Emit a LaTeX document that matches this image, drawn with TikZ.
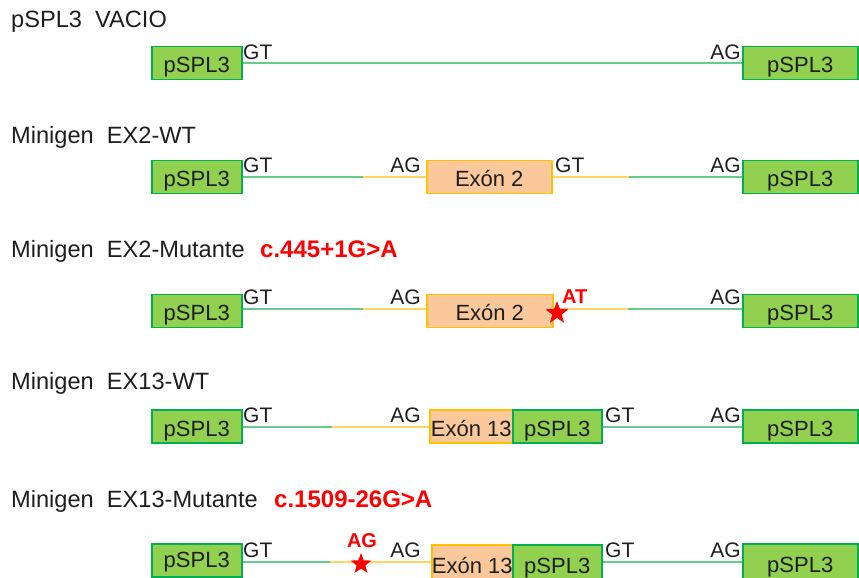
\documentclass[tikz,border=0pt]{standalone}
\usepackage{fontspec}
\setmainfont{Liberation Sans}
\usetikzlibrary{shapes.geometric}

\definecolor{boxgreen}{RGB}{146,208,80}
\definecolor{boxgreenD}{RGB}{0,176,80}
\definecolor{exfill}{RGB}{250,200,155}
\definecolor{exdraw}{RGB}{255,192,0}
\definecolor{lingreen}{RGB}{102,204,140}
\definecolor{linyellow}{RGB}{255,214,100}
\definecolor{ink}{RGB}{30,30,30}
\definecolor{mut}{RGB}{255,0,0}

\begin{document}
\begin{tikzpicture}[x=1pt,y=-1pt,
  box/.style={line width=1.5pt, minimum height=33pt, inner sep=0pt,
    text height=19.5pt, text depth=0.5pt, anchor=west,
    font=\fontsize{22}{24}\selectfont, text=ink},
  vec/.style={box, draw=boxgreenD, fill=boxgreen},
  exon/.style={box, draw=exdraw, fill=exfill},
  vecline/.style={line width=2pt, lingreen},
  insline/.style={line width=2pt, linyellow},
  site/.style={font=\fontsize{21}{23}\selectfont, text=ink, inner sep=0pt},
  mutsite/.style={font=\fontsize{20}{22}\selectfont\bfseries, text=mut, inner sep=0pt},
  heading/.style={font=\fontsize{23.6}{26}\selectfont, text=ink, inner sep=0pt, anchor=base west},
  change/.style={font=\fontsize{24}{26}\selectfont\bfseries, text=mut, inner sep=0pt, anchor=base west},
  mutstar/.style={star, star points=5, star point ratio=2.4, fill=mut, inner sep=0pt, minimum size=24pt},
]
\useasboundingbox (0,0) rectangle (859,578);

% ---------------- pSPL3 VACIO ----------------
\node[heading] (t1) at (11,28) {pSPL3\ \ VACIO};
\node[vec, minimum width=90pt] (a1) at (151,63) {pSPL3};
\node[vec, minimum width=115pt] (b1) at (742,63) {pSPL3};
\draw[vecline] (a1.east) -- (b1.west);
\node[site, anchor=base west] (gt1) at (243,59.5) {GT};
\node[site, anchor=base east] (ag1) at (741,59.5) {AG};

% ---------------- Minigen EX2-WT ----------------
\node[heading] (t2) at (11,143) {Minigen\ \ EX2-WT};
\node[vec, minimum width=90pt] (a2) at (151,177) {pSPL3};
\node[exon, minimum width=125pt] (e2) at (426,177) {Exón 2};
\node[vec, minimum width=115pt] (b2) at (742,177) {pSPL3};
\coordinate (p2) at (363,177);
\coordinate (q2) at (629,177);
\draw[vecline] (a2.east) -- (p2);
\draw[insline] (p2) -- (e2.west);
\draw[insline] (e2.east) -- (q2);
\draw[vecline] (q2) -- (b2.west);
\node[site, anchor=base west] (gt2a) at (243,172.5) {GT};
\node[site, anchor=base east] (ag2a) at (421,172.5) {AG};
\node[site, anchor=base west] (gt2b) at (555,172.5) {GT};
\node[site, anchor=base east] (ag2b) at (741,172.5) {AG};

% ---------------- Minigen EX2-Mutante ----------------
\node[heading] (t3) at (11,257) {Minigen\ \ EX2-Mutante};
\node[change] (c3) at (260,257) {c.445+1G>A};
\node[vec, minimum width=90pt] (a3) at (151,311) {pSPL3};
\node[exon, minimum width=126pt] (e3) at (426,311) {Exón 2};
\node[vec, minimum width=115pt] (b3) at (742,311) {pSPL3};
\coordinate (p3) at (363,309);
\coordinate (q3) at (628,309);
\draw[vecline] (a3.east |- p3) -- (p3);
\draw[insline] (p3) -- (e3.west |- p3);
\draw[insline] (e3.east |- q3) -- (q3);
\draw[vecline] (q3) -- (b3.west |- q3);
\node[site, anchor=base west] (gt3a) at (243,304.5) {GT};
\node[site, anchor=base east] (ag3a) at (421,304.5) {AG};
\node[site, anchor=base east] (ag3b) at (741,304.5) {AG};
\node[mutstar] (s3) at (557,313) {};
\node[mutsite, anchor=base west] (at3) at (562,303) {AT};

% ---------------- Minigen EX13-WT ----------------
\node[heading] (t4) at (11,389) {Minigen\ \ EX13-WT};
\node[vec, minimum width=90pt] (a4) at (151,426.5) {pSPL3};
\node[exon, minimum width=83pt] (e4) at (429,426.5) {Exón 13};
\node[vec, minimum width=89pt] (m4) at (512,426.5) {pSPL3};
\node[vec, minimum width=115pt] (b4) at (742,426.5) {pSPL3};
\coordinate (p4) at (332,427);
\draw[vecline] (a4.east |- p4) -- (p4);
\draw[insline] (p4) -- (e4.west |- p4);
\draw[vecline] (m4.east |- p4) -- (b4.west |- p4);
\node[site, anchor=base west] (gt4a) at (243,422.5) {GT};
\node[site, anchor=base east] (ag4a) at (421,422.5) {AG};
\node[site, anchor=base west] (gt4b) at (605,422.5) {GT};
\node[site, anchor=base east] (ag4b) at (741,422.5) {AG};

% ---------------- Minigen EX13-Mutante ----------------
\node[heading] (t5) at (11,507) {Minigen\ \ EX13-Mutante};
\node[change] (c5) at (274,507) {c.1509-26G>A};
\node[vec, minimum width=90pt, text height=13.5pt] (a5) at (151,560.5) {pSPL3};
\node[exon, minimum width=81pt, minimum height=45pt, text height=11.5pt] (e5) at (431,567.5) {Exón 13};
\node[vec, minimum width=89pt, minimum height=45pt, text height=11.5pt] (m5) at (512,567.5) {pSPL3};
\node[vec, minimum width=115pt, minimum height=44pt, text height=12.5pt] (b5) at (742,566) {pSPL3};
\coordinate (p5) at (330,562);
\draw[vecline] (a5.east |- p5) -- (p5);
\draw[insline] (p5) -- (e5.west |- p5);
\draw[vecline] (m5.east |- p5) -- (b5.west |- p5);
\node[site, anchor=base west] (gt5a) at (243,557) {GT};
\node[site, anchor=base east] (ag5a) at (421,557) {AG};
\node[site, anchor=base west] (gt5b) at (605,557) {GT};
\node[site, anchor=base east] (ag5b) at (741,557) {AG};
\node[mutstar, minimum size=22pt] (s5) at (361,564) {};
\node[mutsite, anchor=base] (ag5m) at (362,547) {AG};

\end{tikzpicture}
\end{document}
